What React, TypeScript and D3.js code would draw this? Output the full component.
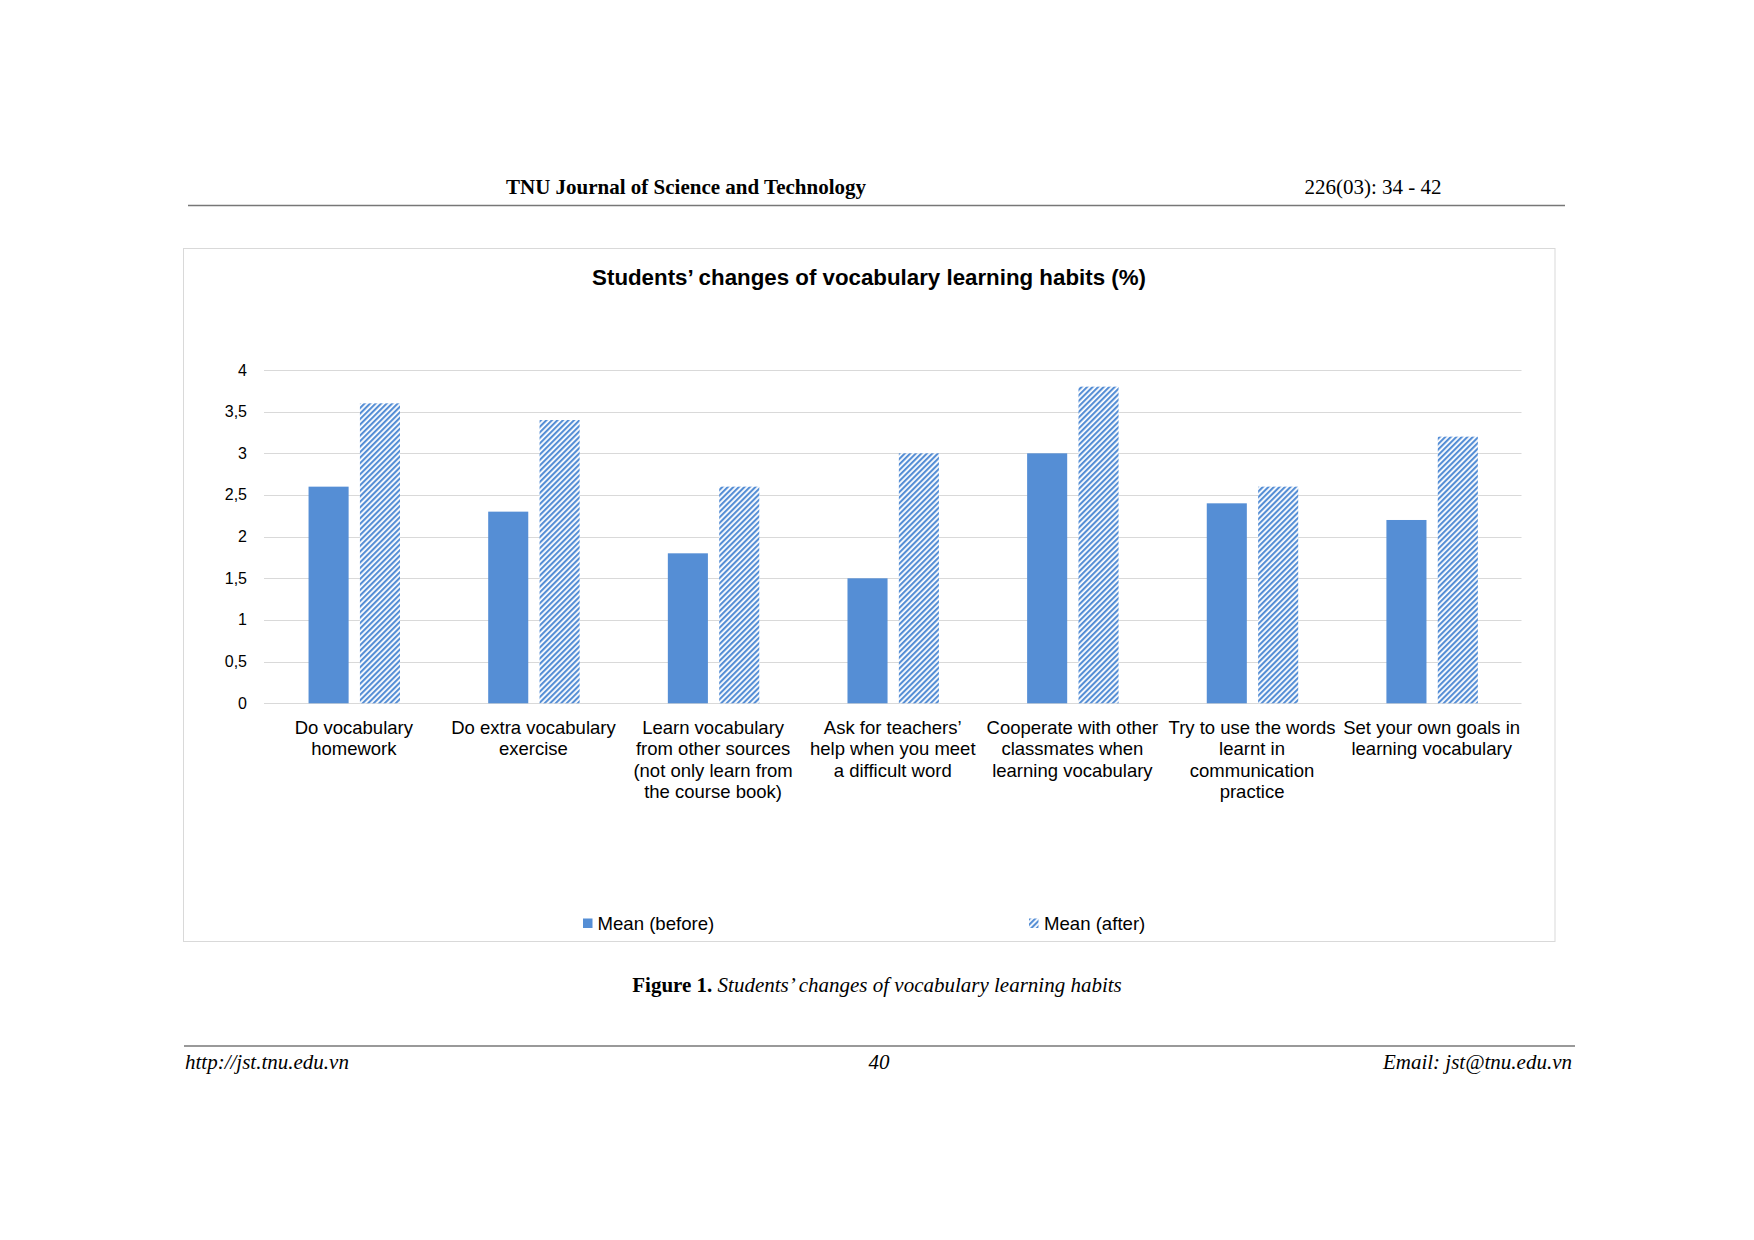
import React from "react";
import * as d3 from "d3";

const categories: string[][] = [
  ["Do vocabulary", "homework"],
  ["Do extra vocabulary", "exercise"],
  ["Learn vocabulary", "from other sources", "(not only learn from", "the course book)"],
  ["Ask for teachers’", "help when you meet", "a difficult word"],
  ["Cooperate with other", "classmates when", "learning vocabulary"],
  ["Try to use the words", "learnt in", "communication", "practice"],
  ["Set your own goals in", "learning vocabulary"],
];
const meanBefore: number[] = [2.6, 2.3, 1.8, 1.5, 3.0, 2.4, 2.2];
const meanAfter: number[] = [3.6, 3.4, 2.6, 3.0, 3.8, 2.6, 3.2];
const yTicks: number[] = [0, 0.5, 1, 1.5, 2, 2.5, 3, 3.5, 4];
const seriesNames: string[] = ["Mean (before)", "Mean (after)"];
const chartTitle = "Students’ changes of vocabulary learning habits (%)";

const BLUE = "#558ED5";
const GRID = "#D9D9D9";
const SANS = "'Liberation Sans', Arial, sans-serif";
const SERIF = "'Liberation Serif', 'Times New Roman', serif";

export default function App() {
  const W = 1754, H = 1240;
  const plotL = 264, plotR = 1521.5, plotT = 370, plotB = 703.3;
  const x = d3.scaleBand<number>().domain(d3.range(categories.length)).range([plotL, plotR]).paddingInner(0).paddingOuter(0);
  const y = d3.scaleLinear().domain([0, 4]).range([plotB, plotT]);
  const bw = x.bandwidth();
  const sub = d3.scaleBand<number>().domain([0, 1]).range([bw * 0.248, bw * 0.757]).paddingInner(0.22);
  const fmt = (v: number) => String(v).replace(".", ",");

  return (
    <div style={{ position: "absolute", left: 0, top: 0 }}>
      <svg width={W} height={H} style={{ display: "block", background: "#fff" }}>
        <defs>
          <pattern id="hatch" patternUnits="userSpaceOnUse" width="3.9" height="3.9" patternTransform="rotate(45)">
            <rect x="0" y="0" width="3.9" height="3.9" fill="#fff" />
            <rect x="0" y="0" width="2.1" height="3.9" fill={BLUE} />
          </pattern>
        </defs>
        {/* header */}
        <text x={686} y={194} textAnchor="middle" fontFamily={SERIF} fontWeight="bold" fontSize={21}>TNU Journal of Science and Technology</text>
        <text x={1373} y={194} textAnchor="middle" fontFamily={SERIF} fontSize={21}>226(03): 34 - 42</text>
        <line x1={188} x2={1565} y1={205.5} y2={205.5} stroke="#777" strokeWidth={1.6} />

        {/* chart frame */}
        <rect x={183.5} y={248.5} width={1371.5} height={693} fill="#fff" stroke={GRID} strokeWidth={1} />
        <text x={869} y={284.5} textAnchor="middle" fontFamily={SANS} fontWeight="bold" fontSize={22.3}>{chartTitle}</text>

        {/* grid + y ticks */}
        {yTicks.map((t) => (
          <g key={t}>
            <line x1={plotL} x2={plotR} y1={Math.round(y(t)) + 0.5} y2={Math.round(y(t)) + 0.5} stroke={GRID} strokeWidth={1.2} />
            <text x={247} y={y(t) + 5.5} textAnchor="end" fontFamily={SANS} fontSize={16} fill="#000">{fmt(t)}</text>
          </g>
        ))}

        {/* bars */}
        {categories.map((_, i) => {
          const x0 = x(i)!;
          return (
            <g key={i}>
              <rect x={x0 + sub(0)!} y={y(meanBefore[i])} width={sub.bandwidth()} height={plotB - y(meanBefore[i])} fill={BLUE} />
              <rect x={x0 + sub(1)!} y={y(meanAfter[i])} width={sub.bandwidth()} height={plotB - y(meanAfter[i])} fill="url(#hatch)" />
            </g>
          );
        })}

        {/* category labels */}
        {categories.map((lines, i) => (
          <text key={i} textAnchor="middle" fontFamily={SANS} fontSize={18.5} fill="#000">
            {lines.map((ln, j) => (
              <tspan key={j} x={x(i)! + bw / 2} y={733.5 + j * 21.6}>{ln}</tspan>
            ))}
          </text>
        ))}

        {/* legend */}
        <rect x={583} y={918.5} width={9.5} height={9.5} fill={BLUE} />
        <text x={597.5} y={929.5} fontFamily={SANS} fontSize={18.6}>{seriesNames[0]}</text>
        <rect x={1029} y={918.5} width={9.5} height={9.5} fill="url(#hatch)" />
        <text x={1044} y={929.5} fontFamily={SANS} fontSize={18.6}>{seriesNames[1]}</text>

        {/* caption */}
        <text x={877} y={992} textAnchor="middle" fontFamily={SERIF} fontSize={21}>
          <tspan fontWeight="bold">Figure 1. </tspan>
          <tspan fontStyle="italic">Students’ changes of vocabulary learning habits</tspan>
        </text>

        {/* footer */}
        <line x1={184} x2={1575} y1={1046} y2={1046} stroke="#777" strokeWidth={1.6} />
        <text x={185} y={1068.5} fontFamily={SERIF} fontStyle="italic" fontSize={21}>http://jst.tnu.edu.vn</text>
        <text x={879} y={1068.5} textAnchor="middle" fontFamily={SERIF} fontStyle="italic" fontSize={21}>40</text>
        <text x={1572} y={1068.5} textAnchor="end" fontFamily={SERIF} fontStyle="italic" fontSize={21}>Email: jst@tnu.edu.vn</text>
      </svg>
    </div>
  );
}
